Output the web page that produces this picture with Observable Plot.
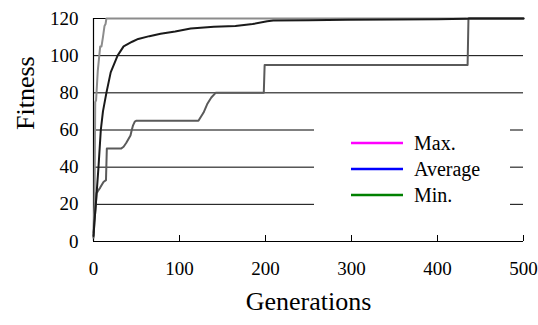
<!DOCTYPE html>
<html>
<head>
<meta charset="utf-8">
<script src="https://cdn.jsdelivr.net/npm/d3@7"></script>
<script src="https://cdn.jsdelivr.net/npm/@observablehq/plot@0.6"></script>
<style>
  html, body { margin: 0; padding: 0; background: #fff; }
  #chart { width: 538px; height: 325px; }
</style>
</head>
<body>
<div id="chart"></div>
<script>
// ---- data ----
const maxGen = [0, 1.2, 2, 3, 3.5, 5, 7.8, 9.3, 11, 12.8, 14, 15, 500];
const maxVal = [5, 20, 75, 76, 80, 92, 105, 105, 110, 116, 117, 120, 120];

const avgGen = [0, 1, 2.7, 5.8, 8.5, 11, 15, 20, 28, 35, 45, 52, 65, 78, 95, 113, 140, 165, 185, 202, 209, 250, 295, 350, 400, 434, 437, 500];
const avgVal = [3, 10, 20, 40, 60, 70, 80, 91, 100, 105, 107.5, 109, 110.5, 111.8, 113, 114.6, 115.5, 116, 117, 118.5, 118.9, 119.1, 119.3, 119.5, 119.6, 119.8, 120, 120];

const minGen = [0, 1, 2.7, 3.5, 5, 7.8, 11.6, 14.5, 15.5, 32, 35, 38, 43, 44.5, 46, 48, 50, 122, 128, 132.6, 137, 142, 198, 199, 435, 436, 500];
const minVal = [2, 10, 20, 26, 27, 29, 32, 33, 50, 50, 51, 53, 57, 60, 62.5, 64.5, 65, 65, 69.4, 74.3, 77.5, 80, 80, 95, 95, 120, 120];

const xTicks = [0, 100, 200, 300, 400, 500];
const yTicks = [0, 20, 40, 60, 80, 100, 120];
const gridTicks = [20, 40, 60, 80, 100, 120];

const seriesNames = ["Max.", "Average", "Min."];
const legendColors = ["#ff00ff", "#0000ff", "#008000"];
const lineColors = ["#8c8c8c", "#1a1a1a", "#5a5a5a"];

const toRows = (g, v) => g.map((d, i) => ({gen: d, val: v[i]}));
const maxRows = toRows(maxGen, maxVal);
const avgRows = toRows(avgGen, avgVal);
const minRows = toRows(minGen, minVal);

const font = "'Liberation Serif', 'Times New Roman', Times, serif";

const plot = Plot.plot({
  width: 538,
  height: 325,
  marginLeft: 93,
  marginRight: 15,
  marginTop: 18,
  marginBottom: 84,
  style: {fontFamily: font, fontSize: "19px", color: "black", background: "white", overflow: "visible"},
  x: {domain: [0, 500]},
  y: {domain: [0, 120]},
  marks: [
    Plot.gridY(gridTicks, {stroke: "black", strokeOpacity: 1, strokeWidth: 1}),
    Plot.axisY(yTicks, {tickSize: 0, tickPadding: 15, label: null, fontSize: 19}),
    Plot.axisX(xTicks.slice(1), {tickSize: -6, text: null, label: null, stroke: "black"}),
    Plot.axisX(xTicks, {tickSize: 0, tickPadding: 20, label: null, fontSize: 19}),
    Plot.ruleX([0], {stroke: "black", strokeWidth: 1.2}),
    Plot.ruleY([0], {stroke: "black", strokeWidth: 1.2}),
    Plot.line(maxRows, {x: "gen", y: "val", stroke: lineColors[0], strokeWidth: 2}),
    Plot.line(minRows, {x: "gen", y: "val", stroke: lineColors[2], strokeWidth: 2}),
    Plot.line(avgRows, {x: "gen", y: "val", stroke: lineColors[1], strokeWidth: 2}),
    Plot.text(["Generations"], {frameAnchor: "bottom", dy: 68, fontSize: 26, fill: "black"}),
    Plot.text(["Fitness"], {frameAnchor: "left", dx: -68, rotate: -90, fontSize: 26, fill: "black"})
  ]
});

document.getElementById("chart").appendChild(plot);

// legend (white box covering the grid, colored line swatches)
const svg = d3.select(plot);
const lg = svg.append("g").attr("class", "legend").attr("text-anchor", "start");
lg.append("rect").attr("x", 314).attr("y", 122).attr("width", 196).attr("height", 92).attr("fill", "white");
seriesNames.forEach((name, i) => {
  const y = 143 + i * 26;
  lg.append("line").attr("x1", 351).attr("x2", 403).attr("y1", y).attr("y2", y)
    .attr("stroke", legendColors[i]).attr("stroke-width", 2.5);
  lg.append("text").attr("x", 414).attr("y", y).attr("dy", "0.35em")
    .attr("text-anchor", "start")
    .attr("font-family", font).attr("font-size", 20).attr("fill", "black").text(name);
});
</script>
</body>
</html>
